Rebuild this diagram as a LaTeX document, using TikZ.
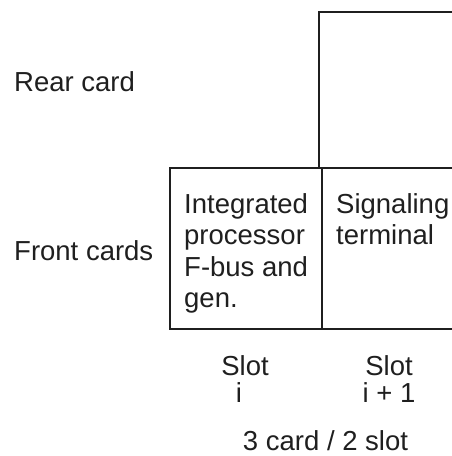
\documentclass[tikz,border=0pt]{standalone}
\usepackage{fontspec}
\setmainfont{Liberation Sans}
\begin{document}
\begin{tikzpicture}[x=1pt,y=-1pt,
  lbl/.style={inner sep=0pt, font=\fontsize{27.5}{31.5}\selectfont, text=black!88},
  slotlbl/.style={lbl, align=center, font=\fontsize{27.5}{27}\selectfont},
  boxtext/.style={lbl, align=left, anchor=base west},
  card/.style={draw=black!88, line width=1.6pt, inner sep=0pt, anchor=north west}]
\useasboundingbox (0,0) rectangle (452,456);
\clip (0,0) rectangle (452,456);
% cards
\node[card, minimum width=170pt, minimum height=156pt] (rear) at (318,11) {};
\node[card, minimum width=152pt, minimum height=161pt] (front1) at (169,167) {};
\node[card, minimum width=170pt, minimum height=161pt] (front2) at (321,167) {};
% row labels
\node[lbl, anchor=base west] (rearlbl) at (14,91) {Rear card};
\node[lbl, anchor=base west] (frontlbl) at (14,260) {Front cards};
% card texts (base anchor = last line)
\node[boxtext] (t1) at (184,307.5) {Integrated\\processor\\F-bus and\\gen.};
\node[boxtext] (t2) at (336,244.5) {Signaling\\terminal};
% slot labels
\node[slotlbl, anchor=base] (s1) at (245,402) {Slot\\i\kern12pt\null};
\node[slotlbl, anchor=base] (s2) at (389,402) {Slot\\i + 1};
\node[lbl, anchor=base] (cap) at (325.5,450) {3 card / 2 slot};
\end{tikzpicture}
\end{document}
